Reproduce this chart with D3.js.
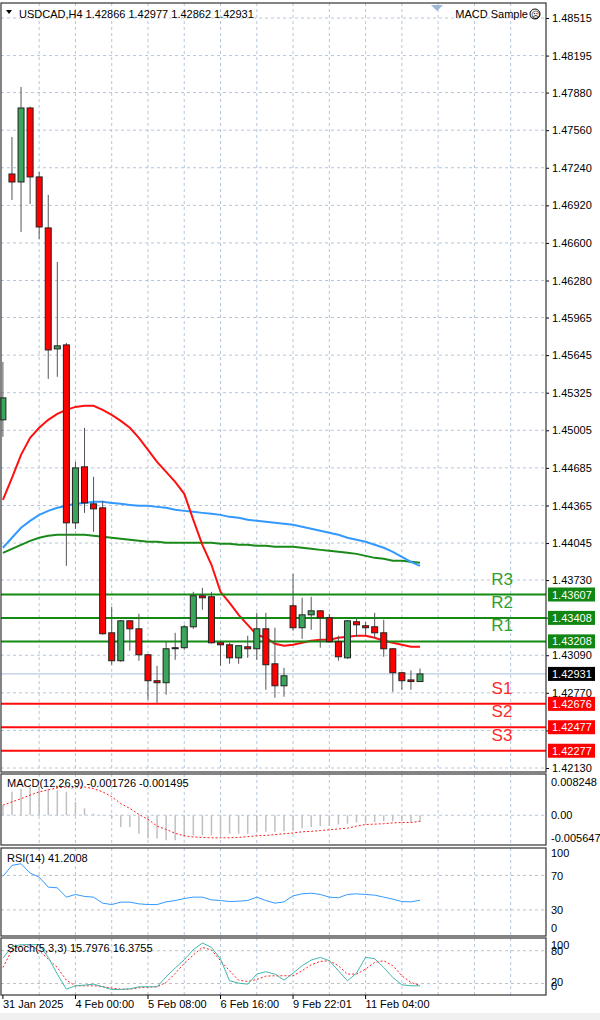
<!DOCTYPE html>
<html>
<head>
<meta charset="utf-8">
<script src="https://cdn.jsdelivr.net/npm/d3@7"></script>
<style>
  body { margin: 0; background: #fff; }
  svg text { font-family: "Liberation Sans", Arial, sans-serif; }
</style>
</head>
<body>
<svg width="600" height="1020"></svg>
<script>
// USDCAD H4 candles (oldest to newest)
var opens  = [1.45094,1.47187,1.47119,1.47749,1.47162,1.46728,1.45698,1.45732,1.44217,1.44694,1.44379,1.44345,1.43281,1.43043,1.43383,1.43315,1.43094,1.42873,1.42856,1.43154,1.43154,1.43332,1.43596,1.43588,1.43196,1.43179,1.43068,1.43162,1.43145,1.43315,1.43017,1.42830,1.43511,1.43324,1.43434,1.43468,1.43409,1.43205,1.43068,1.43375,1.43341,1.43332,1.43281,1.43145,1.42941,1.42880,1.42866];
var highs  = [1.45587,1.47502,1.47928,1.47760,1.47204,1.47009,1.46438,1.45749,1.44736,1.45026,1.44609,1.44404,1.43502,1.43390,1.43390,1.43443,1.43100,1.43000,1.43205,1.43281,1.43349,1.43630,1.43664,1.43630,1.43200,1.43196,1.43175,1.43256,1.43451,1.43451,1.43324,1.42983,1.43783,1.43579,1.43588,1.43475,1.43443,1.43256,1.43390,1.43400,1.43375,1.43451,1.43392,1.43150,1.42945,1.42960,1.42977];
var lows   = [1.44949,1.46966,1.46694,1.46932,1.46634,1.45443,1.45460,1.43851,1.44166,1.44302,1.44141,1.43265,1.43009,1.43035,1.43128,1.43043,1.42711,1.42685,1.42754,1.43051,1.43136,1.43315,1.43477,1.43190,1.43000,1.43017,1.43017,1.43068,1.43051,1.42796,1.42728,1.42737,1.43298,1.43230,1.43307,1.43154,1.43196,1.43043,1.43060,1.43247,1.43256,1.43239,1.43077,1.42779,1.42796,1.42796,1.42862];
var closes = [1.45281,1.47119,1.47749,1.47162,1.46736,1.45689,1.45724,1.44217,1.44685,1.44387,1.44336,1.43273,1.43043,1.43383,1.43315,1.43094,1.42873,1.42856,1.43145,1.43150,1.43332,1.43596,1.43579,1.43196,1.43179,1.43068,1.43171,1.43145,1.43315,1.43009,1.42830,1.42915,1.43324,1.43434,1.43468,1.43409,1.43205,1.43077,1.43383,1.43349,1.43324,1.43281,1.43145,1.42941,1.42873,1.42866,1.42931];

// moving averages
var maRed   = [1.44413,1.44600,1.44796,1.44941,1.45026,1.45094,1.45145,1.45179,1.45204,1.45213,1.45213,1.45179,1.45136,1.45085,1.45026,1.44941,1.44838,1.44736,1.44651,1.44566,1.44464,1.44243,1.44030,1.43860,1.43630,1.43536,1.43434,1.43349,1.43264,1.43239,1.43188,1.43171,1.43179,1.43196,1.43213,1.43222,1.43222,1.43239,1.43247,1.43256,1.43256,1.43239,1.43213,1.43196,1.43179,1.43162,1.43162];
var maBlue  = [1.44005,1.44090,1.44175,1.44234,1.44285,1.44319,1.44345,1.44362,1.44379,1.44387,1.44396,1.44396,1.44387,1.44379,1.44370,1.44362,1.44362,1.44353,1.44345,1.44328,1.44319,1.44311,1.44302,1.44294,1.44285,1.44268,1.44260,1.44243,1.44234,1.44226,1.44217,1.44209,1.44200,1.44183,1.44166,1.44149,1.44132,1.44115,1.44090,1.44073,1.44056,1.44030,1.44005,1.43970,1.43928,1.43885,1.43851];
var maGreen = [1.43962,1.43996,1.44030,1.44064,1.44090,1.44107,1.44115,1.44115,1.44115,1.44115,1.44107,1.44098,1.44090,1.44081,1.44073,1.44064,1.44056,1.44056,1.44047,1.44047,1.44047,1.44047,1.44047,1.44047,1.44039,1.44039,1.44030,1.44030,1.44022,1.44022,1.44013,1.44013,1.44013,1.44005,1.43996,1.43987,1.43979,1.43970,1.43962,1.43953,1.43936,1.43919,1.43911,1.43894,1.43894,1.43885,1.43877];

// pivot levels
var levelNames  = ["R3","R2","R1","S1","S2","S3"];
var levelValues = [1.43607,1.43408,1.43208,1.42676,1.42477,1.42277];
var lastPrice = 1.42931;

var priceTicks = [1.48515,1.48195,1.47880,1.47560,1.47240,1.46920,1.46600,1.46280,1.45965,1.45645,1.45325,1.45005,1.44685,1.44365,1.44045,1.43730,1.43410,1.43090,1.42770,1.42450,1.42130];
var dateLabels = ["31 Jan 2025","4 Feb 00:00","5 Feb 08:00","6 Feb 16:00","9 Feb 22:01","11 Feb 04:00"];

// indicators
var macdHist = [0.0025,0.0058,0.0066,0.0070,0.0070,0.0066,0.0062,0.0058,0.0033,0.0017,0.0004,-0.0001,-0.0008,-0.0029,-0.0029,-0.0046,-0.0058,-0.0058,-0.0062,-0.0062,-0.0054,-0.0050,-0.0050,-0.0050,-0.0048,-0.0046,-0.0046,-0.0046,-0.0043,-0.0041,-0.0041,-0.0040,-0.0037,-0.0032,-0.0029,-0.0027,-0.0027,-0.0023,-0.0021,-0.0018,-0.0017,-0.0017,-0.0015,-0.0015,-0.0015,-0.0017,-0.0017];
var macdSignal = [0.0025,0.0033,0.0041,0.0050,0.0058,0.0063,0.0068,0.0070,0.0070,0.0070,0.0066,0.0058,0.0046,0.0029,0.0017,0.0002,-0.0010,-0.0027,-0.0035,-0.0045,-0.0051,-0.0054,-0.0055,-0.0056,-0.0056,-0.0056,-0.0055,-0.0053,-0.0051,-0.0050,-0.0048,-0.0046,-0.0044,-0.0041,-0.0040,-0.0038,-0.0036,-0.0034,-0.0032,-0.0027,-0.0023,-0.0022,-0.0021,-0.0019,-0.0018,-0.0018,-0.0015];
var rsi = [68.8,81.6,83.5,72.7,68.0,56.4,55.6,44.8,47.9,45.6,44.8,37.8,36.2,39.0,39.0,37.0,36.2,36.2,39.3,40.9,43.2,44.8,44.8,41.6,40.9,39.7,40.1,40.9,44.8,40.9,37.8,39.3,46.3,48.6,49.4,47.9,44.8,44.0,47.9,48.6,47.9,47.1,44.8,42.5,39.7,39.3,41.2];
var stochK = [66.6,87.4,91.1,91.1,91.1,67.8,37.2,9.6,15.7,17.0,18.8,13.9,9.0,9.0,10.2,13.9,13.9,13.9,32.3,48.2,63.5,81.9,94.1,86.2,64.7,24.9,20.6,18.8,37.2,41.5,37.2,26.1,39.0,52.5,62.9,67.8,61.7,43.3,24.9,39.0,67.8,65.4,49.4,31.0,17.6,15.7,15.8];
var stochD = [49.4,81.3,89.2,91.1,80.0,64.7,49.4,26.1,15.7,15.7,15.7,14.5,11.5,9.6,9.6,12.1,13.3,13.9,21.9,38.4,56.8,72.1,86.2,81.3,61.7,43.3,26.1,23.7,27.4,33.5,34.1,34.1,34.1,43.3,54.3,60.4,61.7,52.5,37.2,37.2,46.4,58.6,61.7,52.5,34.1,21.9,16.4];

var svg = d3.select("svg");
var left = 1, right = 546, gridCol = "#b4c6dc";
var idx = d3.range(closes.length);

// x: candle index -> pixel
var x = d3.scaleLinear().domain([0, 46]).range([2.9, 420]);
var y = d3.scaleLinear().domain([1.42130, 1.48515]).range([768, 18]);

var panels = [
  {top: 3, bottom: 772},
  {top: 774, bottom: 845},
  {top: 848, bottom: 936},
  {top: 938, bottom: 995}
];

// vertical grid
var gridIdx = d3.range(4, 60, 4).filter(function(k) { return x(k) < right - 2; });
panels.forEach(function(p) {
  svg.append("g").selectAll("line").data(gridIdx).join("line")
    .attr("x1", function(k) { return x(k); }).attr("x2", function(k) { return x(k); })
    .attr("y1", p.top).attr("y2", p.bottom)
    .attr("stroke", gridCol).attr("stroke-dasharray", "3,3");
});

// main horizontal grid + axis
svg.append("g").selectAll("line").data(priceTicks).join("line")
  .attr("x1", left).attr("x2", right)
  .attr("y1", function(d) { return y(d); }).attr("y2", function(d) { return y(d); })
  .attr("stroke", gridCol).attr("stroke-dasharray", "3,3");

var axis = svg.append("g").attr("transform", "translate(" + right + ",0)")
  .call(d3.axisRight(y).tickValues(priceTicks).tickFormat(d3.format(".5f")).tickSize(3));
axis.select(".domain").remove();
axis.selectAll("text").attr("font-size", 11).attr("fill", "#000")
  .attr("font-family", "Liberation Sans, Arial, sans-serif");

// current price line
svg.append("line").attr("x1", left).attr("x2", right)
  .attr("y1", y(lastPrice)).attr("y2", y(lastPrice)).attr("stroke", "#a8c0dc");

// moving averages
function maLine(arr) {
  return d3.line().x(function(d, i) { return x(i); }).y(function(d) { return y(d); })(arr);
}
[[maGreen, "#1a8a1a"], [maBlue, "#3399ff"], [maRed, "#ff1010"]].forEach(function(m) {
  svg.append("path").attr("d", maLine(m[0])).attr("fill", "none")
    .attr("stroke", m[1]).attr("stroke-width", 2);
});

// pivot lines
levelValues.forEach(function(v, i) {
  var res = levelNames[i][0] === "R";
  var col = res ? "#138a13" : "#ff0d0d";
  svg.append("line").attr("x1", left).attr("x2", right)
    .attr("y1", y(v)).attr("y2", y(v)).attr("stroke", col).attr("stroke-width", 2);
  svg.append("text").attr("x", 502).attr("y", y(v) - 10).attr("text-anchor", "middle")
    .attr("font-size", 17).attr("fill", res ? "#2f9e2f" : "#ff2a2a").text(levelNames[i]);
});

// candles
var cg = svg.append("g");
idx.forEach(function(i) {
  var up = closes[i] >= opens[i];
  cg.append("line").attr("x1", x(i)).attr("x2", x(i))
    .attr("y1", y(highs[i])).attr("y2", y(lows[i])).attr("stroke", "#555");
  var t = y(Math.max(opens[i], closes[i])), b = y(Math.min(opens[i], closes[i]));
  cg.append("rect").attr("x", x(i) - 3).attr("width", 6)
    .attr("y", t).attr("height", Math.max(1, b - t))
    .attr("fill", up ? "#3ca55c" : "#ff0000").attr("stroke", "#222").attr("stroke-width", 1);
});

// price boxes
function priceBox(v, bg) {
  svg.append("rect").attr("x", 548).attr("y", y(v) - 7).attr("width", 47).attr("height", 14).attr("fill", bg);
  svg.append("text").attr("x", 552).attr("y", y(v) + 4).attr("font-size", 11).attr("fill", "#fff")
    .text(d3.format(".5f")(v));
}
levelValues.forEach(function(v, i) { priceBox(v, levelNames[i][0] === "R" ? "#128612" : "#ff0000"); });
priceBox(lastPrice, "#000");

// header
svg.append("path").attr("d", "M6,10 L12,10 L9,14 Z").attr("fill", "#000");
svg.append("text").attr("x", 19).attr("y", 18).attr("font-size", 11)
  .text("USDCAD,H4  1.42866 1.42977 1.42862 1.42931");
svg.append("text").attr("x", 528).attr("y", 18).attr("font-size", 11).attr("text-anchor", "end").text("MACD Sample");
svg.append("circle").attr("cx", 535).attr("cy", 14).attr("r", 5).attr("fill", "none").attr("stroke", "#000");
svg.append("text").attr("x", 535).attr("y", 17.5).attr("font-size", 9).attr("text-anchor", "middle").text("☹");
svg.append("path").attr("d", "M431,5 L443,5 L437,11 Z").attr("fill", "#9db8d6");

// MACD panel
var ym = d3.scaleLinear().domain([-0.005647, 0.008248]).range([838, 782]);
svg.append("line").attr("x1", left).attr("x2", right).attr("y1", ym(0)).attr("y2", ym(0))
  .attr("stroke", gridCol).attr("stroke-dasharray", "3,3");
svg.append("g").selectAll("line").data(macdHist).join("line")
  .attr("x1", function(d, i) { return x(i); }).attr("x2", function(d, i) { return x(i); })
  .attr("y1", ym(0)).attr("y2", function(d) { return ym(d); })
  .attr("stroke", "#c0c0c0").attr("stroke-width", 1.5);
svg.append("path").attr("fill", "none").attr("stroke", "#ff2020").attr("stroke-dasharray", "2,2")
  .attr("d", d3.line().x(function(d, i) { return x(i); }).y(function(d) { return ym(d); })(macdSignal));
[[0.008248, "0.008248"], [0, "0.00"], [-0.005647, "-0.005647"]].forEach(function(t) {
  svg.append("text").attr("x", 551).attr("y", ym(t[0]) + 4).attr("font-size", 11).text(t[1]);
});
svg.append("text").attr("x", 7).attr("y", 787).attr("font-size", 11).text("MACD(12,26,9) -0.001726 -0.001495");

// RSI panel
var yr = d3.scaleLinear().domain([0, 100]).range([935.8, 849.5]);
[70, 30].forEach(function(v) {
  svg.append("line").attr("x1", left).attr("x2", right).attr("y1", yr(v)).attr("y2", yr(v))
    .attr("stroke", "#c0c0c0").attr("stroke-dasharray", "3,3");
});
svg.append("path").attr("fill", "none").attr("stroke", "#3399ff").attr("stroke-width", 1)
  .attr("d", d3.line().x(function(d, i) { return x(i); }).y(function(d) { return yr(d); })(rsi));
[[100, 857], [70, 880], [30, 914], [0, 932]].forEach(function(t) {
  svg.append("text").attr("x", 551).attr("y", t[1]).attr("font-size", 11).text(t[0]);
});
svg.append("text").attr("x", 7).attr("y", 862).attr("font-size", 11).text("RSI(14) 41.2008");

// Stochastic panel
var ys = d3.scaleLinear().domain([0, 100]).range([994.4, 939.8]);
[80, 20].forEach(function(v) {
  svg.append("line").attr("x1", left).attr("x2", right).attr("y1", ys(v)).attr("y2", ys(v))
    .attr("stroke", "#c0c0c0").attr("stroke-dasharray", "3,3");
});
svg.append("path").attr("fill", "none").attr("stroke", "#ff2020").attr("stroke-dasharray", "2,2")
  .attr("d", d3.line().x(function(d, i) { return x(i); }).y(function(d) { return ys(d); })(stochD));
svg.append("path").attr("fill", "none").attr("stroke", "#40b8b0").attr("stroke-width", 1)
  .attr("d", d3.line().x(function(d, i) { return x(i); }).y(function(d) { return ys(d); })(stochK));
[[100, 949], [80, 955], [20, 986], [0, 990]].forEach(function(t) {
  svg.append("text").attr("x", 551).attr("y", t[1]).attr("font-size", 11).text(t[0]);
});
svg.append("text").attr("x", 7).attr("y", 952).attr("font-size", 11).text("Stoch(5,3,3) 15.7976 16.3755");

// panel frames
panels.forEach(function(p) {
  svg.append("rect").attr("x", left).attr("y", p.top).attr("width", right - left)
    .attr("height", p.bottom - p.top).attr("fill", "none").attr("stroke", "#333").attr("stroke-width", 1.2);
});

// date axis
var dateIdx = [0, 8, 16, 24, 32, 40];
svg.append("g").selectAll("line").data(dateIdx).join("line")
  .attr("x1", function(k) { return x(k); }).attr("x2", function(k) { return x(k); })
  .attr("y1", 995).attr("y2", 999).attr("stroke", "#000");
svg.append("g").selectAll("text").data(dateIdx).join("text")
  .attr("x", function(k) { return x(k); }).attr("y", 1008).attr("font-size", 11)
  .text(function(k, i) { return dateLabels[i]; });
svg.append("rect").attr("x", 0).attr("y", 1013).attr("width", 600).attr("height", 7).attr("fill", "#f0f0f0");
</script>
</body>
</html>
